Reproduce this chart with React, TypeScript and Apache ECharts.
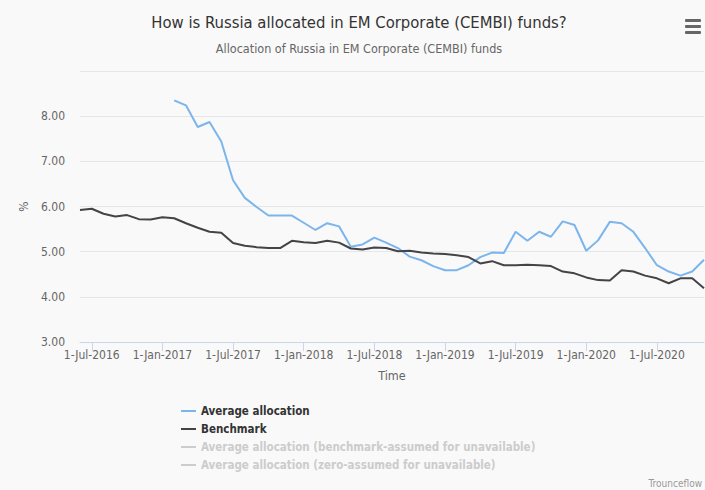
import React, { useEffect, useRef } from "react";
import * as echarts from "echarts";

const months = [
  "1-Jun-2016", "1-Jul-2016", "1-Aug-2016", "1-Sep-2016", "1-Oct-2016", "1-Nov-2016", "1-Dec-2016",
  "1-Jan-2017", "1-Feb-2017", "1-Mar-2017", "1-Apr-2017", "1-May-2017", "1-Jun-2017", "1-Jul-2017",
  "1-Aug-2017", "1-Sep-2017", "1-Oct-2017", "1-Nov-2017", "1-Dec-2017", "1-Jan-2018", "1-Feb-2018",
  "1-Mar-2018", "1-Apr-2018", "1-May-2018", "1-Jun-2018", "1-Jul-2018", "1-Aug-2018", "1-Sep-2018",
  "1-Oct-2018", "1-Nov-2018", "1-Dec-2018", "1-Jan-2019", "1-Feb-2019", "1-Mar-2019", "1-Apr-2019",
  "1-May-2019", "1-Jun-2019", "1-Jul-2019", "1-Aug-2019", "1-Sep-2019", "1-Oct-2019", "1-Nov-2019",
  "1-Dec-2019", "1-Jan-2020", "1-Feb-2020", "1-Mar-2020", "1-Apr-2020", "1-May-2020", "1-Jun-2020",
  "1-Jul-2020", "1-Aug-2020", "1-Sep-2020", "1-Oct-2020", "1-Nov-2020",
];

const averageAllocation: (number | null)[] = [
  null, null, null, null, null, null, null, null,
  8.35, 8.24, 7.76, 7.87, 7.44, 6.58, 6.19, 5.99, 5.8, 5.8, 5.8, 5.64,
  5.48, 5.63, 5.56, 5.11, 5.16, 5.31, 5.2, 5.08, 4.89, 4.81,
  4.68, 4.59, 4.59, 4.7, 4.88, 4.98, 4.97, 5.44, 5.24, 5.44,
  5.33, 5.67, 5.59, 5.02, 5.25, 5.66, 5.63, 5.44, 5.08, 4.7,
  4.56, 4.47, 4.56, 4.82,
];

const benchmark = [
  5.92, 5.95, 5.84, 5.78, 5.81, 5.72, 5.71, 5.76, 5.74, 5.63,
  5.53, 5.44, 5.42, 5.19, 5.13, 5.1, 5.08, 5.08, 5.24, 5.21,
  5.19, 5.24, 5.2, 5.07, 5.05, 5.09, 5.08, 5.01, 5.02, 4.98,
  4.96, 4.95, 4.92, 4.88, 4.74, 4.79, 4.7, 4.7, 4.71, 4.7,
  4.68, 4.56, 4.52, 4.43, 4.37, 4.36, 4.59, 4.56, 4.47, 4.41,
  4.3, 4.41, 4.41, 4.19,
];

const seriesNames = [
  "Average allocation",
  "Benchmark",
  "Average allocation (benchmark-assumed for unavailable)",
  "Average allocation (zero-assumed for unavailable)",
];

const FONT = "'DejaVu Sans Condensed', 'Open Sans', sans-serif";

export default function App() {
  const ref = useRef<HTMLDivElement>(null);
  useEffect(() => {
    if (!ref.current) return;
    const chart = echarts.init(ref.current, null, { renderer: "svg" });
    const isTick = (_i: number, v: string) => v.includes("-Jan-") || v.includes("-Jul-");
    chart.setOption({
      animation: false,
      backgroundColor: "#f9f9f9",
      textStyle: { fontFamily: FONT },
      title: [
        {
          text: "How is Russia allocated in EM Corporate (CEMBI) funds?",
          left: 354,
          top: 9,
          textAlign: "center",
          textStyle: { fontFamily: FONT, fontSize: 16.5, fontWeight: "normal", color: "#333333" },
        },
        {
          text: "Allocation of Russia in EM Corporate (CEMBI) funds",
          left: 354,
          top: 37,
          textAlign: "center",
          textStyle: { fontFamily: FONT, fontSize: 12.5, fontWeight: "normal", color: "#666666" },
        },
      ],
      legend: {
        orient: "vertical",
        left: 176,
        top: 400,
        itemWidth: 15,
        itemHeight: 2,
        itemGap: 6,
        inactiveColor: "#cccccc",
        textStyle: { fontFamily: FONT, fontSize: 11.5, fontWeight: "bold", color: "#333333" },
        data: seriesNames.map((n) => ({ name: n, icon: "rect" })),
        selected: {
          [seriesNames[2]]: false,
          [seriesNames[3]]: false,
        },
      },
      grid: { left: 80, right: 1, top: 71, bottom: 148, containLabel: false },
      xAxis: {
        type: "category",
        data: months,
        boundaryGap: false,
        name: "Time",
        nameLocation: "middle",
        nameGap: 27,
        nameTextStyle: { fontFamily: FONT, fontSize: 12.5, color: "#666666" },
        axisLine: { lineStyle: { color: "#ccd6eb" } },
        axisTick: { show: true, interval: isTick, length: 9, lineStyle: { color: "#ccd6eb" } },
        axisLabel: {
          interval: isTick,
          margin: 7,
          fontFamily: FONT,
          fontSize: 12,
          color: "#666666",
          hideOverlap: false,
        },
        splitLine: { show: false },
      },
      yAxis: {
        type: "value",
        min: 3,
        max: 9,
        interval: 1,
        name: "%",
        nameLocation: "middle",
        nameRotate: 90,
        nameGap: 50,
        nameTextStyle: { fontFamily: FONT, fontSize: 12, color: "#666666" },
        axisLine: { show: false },
        axisTick: { show: false },
        axisLabel: {
          margin: 15,
          showMaxLabel: false,
          fontFamily: FONT,
          fontSize: 12,
          color: "#666666",
          verticalAlign: "middle",
          padding: [0, 0, 9, 0],
          formatter: (v: number) => v.toFixed(2),
        },
        splitLine: { lineStyle: { color: "#e6e6e6" } },
      },
      series: [
        {
          name: seriesNames[0],
          type: "line",
          data: averageAllocation,
          showSymbol: false,
          symbol: "none",
          connectNulls: false,
          color: "#7cb5ec",
          lineStyle: { width: 2, color: "#7cb5ec" },
        },
        {
          name: seriesNames[1],
          type: "line",
          data: benchmark,
          showSymbol: false,
          symbol: "none",
          color: "#434348",
          lineStyle: { width: 2, color: "#434348" },
        },
        {
          name: seriesNames[2],
          type: "line",
          data: [],
          showSymbol: false,
          symbol: "none",
          color: "#90ed7d",
        },
        {
          name: seriesNames[3],
          type: "line",
          data: [],
          showSymbol: false,
          symbol: "none",
          color: "#f7a35c",
        },
      ],
      graphic: [
        {
          type: "group",
          left: 685,
          top: 19,
          children: [
            { type: "rect", shape: { x: 0, y: 0, width: 16, height: 3, r: 1 }, style: { fill: "#666666" } },
            { type: "rect", shape: { x: 0, y: 6, width: 16, height: 3, r: 1 }, style: { fill: "#666666" } },
            { type: "rect", shape: { x: 0, y: 12, width: 16, height: 3, r: 1 }, style: { fill: "#666666" } },
          ],
        },
        {
          type: "text",
          right: 3,
          bottom: 2,
          style: { text: "Trounceflow", fontFamily: FONT, fontSize: 10, fill: "#999999" },
        },
      ],
    });
    return () => chart.dispose();
  }, []);
  return (
    <div style={{ position: "fixed", left: 0, top: 0, width: 705, height: 490 }}>
      <div ref={ref} style={{ width: 705, height: 490 }} />
    </div>
  );
}
